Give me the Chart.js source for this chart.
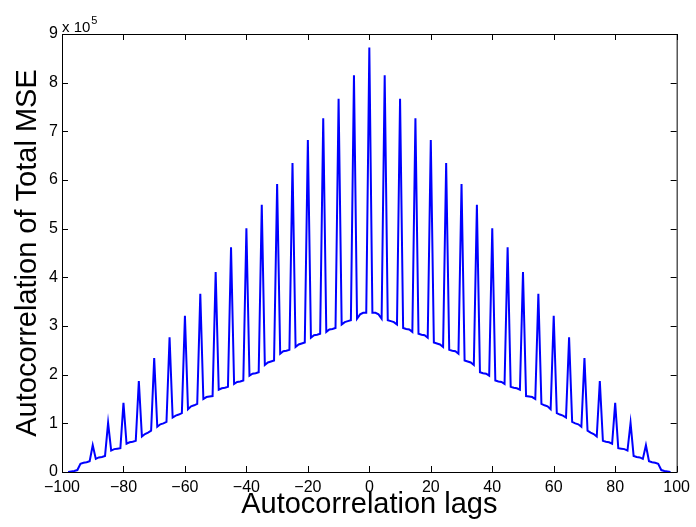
<!DOCTYPE html>
<html>
<head>
<meta charset="utf-8">
<script src="https://cdn.jsdelivr.net/npm/chart.js@4.4.1/dist/chart.umd.min.js"></script>
<style>
  html, body { margin: 0; padding: 0; background: #fff; }
  #wrap { width: 696px; height: 527px; }
</style>
</head>
<body>
<div id="wrap"><canvas id="acf" width="696" height="527"></canvas></div>
<script>
// autocorrelation values (x 10^5) for lags 0..98, the curve is symmetric about lag 0
const acfHalf = [
    8.72, 3.27, 3.27, 3.24, 3.15,
    8.15, 3.12, 3.10, 3.08, 3.03,
    7.67, 2.96, 2.94, 2.93, 2.88,
    7.27, 2.84, 2.82, 2.81, 2.76,
    6.82, 2.66, 2.64, 2.62, 2.57,
    6.35, 2.51, 2.49, 2.48, 2.43,
    5.92, 2.29, 2.27, 2.25, 2.20,
    5.49, 2.05, 2.03, 2.02, 1.98,
    5.01, 1.88, 1.86, 1.85, 1.81,
    4.62, 1.75, 1.73, 1.72, 1.69,
    4.11, 1.56, 1.55, 1.54, 1.50,
    3.66, 1.40, 1.37, 1.35, 1.29,
    3.21, 1.21, 1.18, 1.16, 1.12,
    2.77, 1.03, 1.00, 0.98, 0.93,
    2.34, 0.85, 0.81, 0.78, 0.73,
    1.87, 0.64, 0.62, 0.61, 0.58,
    1.42, 0.49, 0.48, 0.47, 0.44,
    1.01, 0.33, 0.31, 0.30, 0.27,
    0.55, 0.22, 0.20, 0.19, 0.17,
    0.04, 0.02, 0.01, 0.00
];
const xTicks = [-100, -80, -60, -40, -20, 0, 20, 40, 60, 80, 100];
const yTicks = [0, 1, 2, 3, 4, 5, 6, 7, 8, 9];
const xTitle = 'Autocorrelation lags';
const yTitle = 'Autocorrelation of Total MSE';

// mirror the half into lags -98..98
const maxLag = acfHalf.length - 1;
const points = [];
for (let lag = -maxLag; lag <= maxLag; lag++) {
    points.push({ x: lag, y: acfHalf[Math.abs(lag)] });
}

const FONT = '"Liberation Sans", Arial, Helvetica, sans-serif';
const minus = v => String(v).replace('-', '\u2212');

// matlab style box, inward ticks and the exponent note
const matlabAxes = {
    id: 'matlabAxes',
    afterDraw(chart) {
        const { ctx, chartArea: a, scales: { x, y } } = chart;
        ctx.save();
        ctx.strokeStyle = '#000';
        ctx.lineWidth = 1;
        ctx.strokeRect(a.left + 0.5, a.top + 0.5, a.right - a.left, a.bottom - a.top);
        const len = 6;
        ctx.beginPath();
        xTicks.forEach(v => {
            const px = Math.round(x.getPixelForValue(v)) + 0.5;
            ctx.moveTo(px, a.bottom); ctx.lineTo(px, a.bottom - len);
            ctx.moveTo(px, a.top); ctx.lineTo(px, a.top + len);
        });
        yTicks.forEach(v => {
            const py = Math.round(y.getPixelForValue(v)) + 0.5;
            ctx.moveTo(a.left, py); ctx.lineTo(a.left + len, py);
            ctx.moveTo(a.right, py); ctx.lineTo(a.right - len, py);
        });
        ctx.stroke();

        ctx.fillStyle = '#000';
        ctx.textBaseline = 'alphabetic';
        ctx.textAlign = 'left';
        ctx.font = '15px ' + FONT;
        ctx.fillText('x 10', a.left, a.top - 2);
        const w = ctx.measureText('x 10').width;
        ctx.font = '11px ' + FONT;
        ctx.fillText('5', a.left + w + 1, a.top - 10);
        ctx.restore();
    }
};

new Chart(document.getElementById('acf').getContext('2d'), {
    type: 'line',
    plugins: [matlabAxes],
    data: {
        datasets: [{
            data: points,
            borderColor: 'rgb(0, 0, 255)',
            borderWidth: 2,
            pointRadius: 0,
            tension: 0,
            fill: false
        }]
    },
    options: {
        responsive: false,
        animation: false,
        events: [],
        layout: { padding: { left: 0, right: 17, top: 34, bottom: 0 } },
        plugins: {
            legend: { display: false },
            tooltip: { enabled: false }
        },
        scales: {
            x: {
                type: 'linear',
                min: -100,
                max: 100,
                afterFit: s => { s.height = 55; },
                afterBuildTicks: s => { s.ticks = xTicks.map(v => ({ value: v })); },
                grid: { display: false, drawTicks: false },
                border: { display: false },
                ticks: {
                    padding: 6,
                    color: '#000',
                    font: { family: FONT, size: 16 },
                    maxRotation: 0,
                    callback: v => minus(v)
                },
                title: {
                    display: true,
                    text: xTitle,
                    color: '#000',
                    font: { family: FONT, size: 29 },
                    padding: { top: 0, bottom: 5 }
                }
            },
            y: {
                type: 'linear',
                min: 0,
                max: 9,
                afterFit: s => { s.width = 62; },
                afterBuildTicks: s => { s.ticks = yTicks.map(v => ({ value: v })); },
                grid: { display: false, drawTicks: false },
                border: { display: false },
                ticks: {
                    padding: 4,
                    color: '#000',
                    font: { family: FONT, size: 16 },
                    callback: v => minus(v)
                },
                title: {
                    display: true,
                    text: yTitle,
                    color: '#000',
                    font: { family: FONT, size: 29 },
                    padding: { top: 11, bottom: 0 }
                }
            }
        }
    }
});
</script>
</body>
</html>
